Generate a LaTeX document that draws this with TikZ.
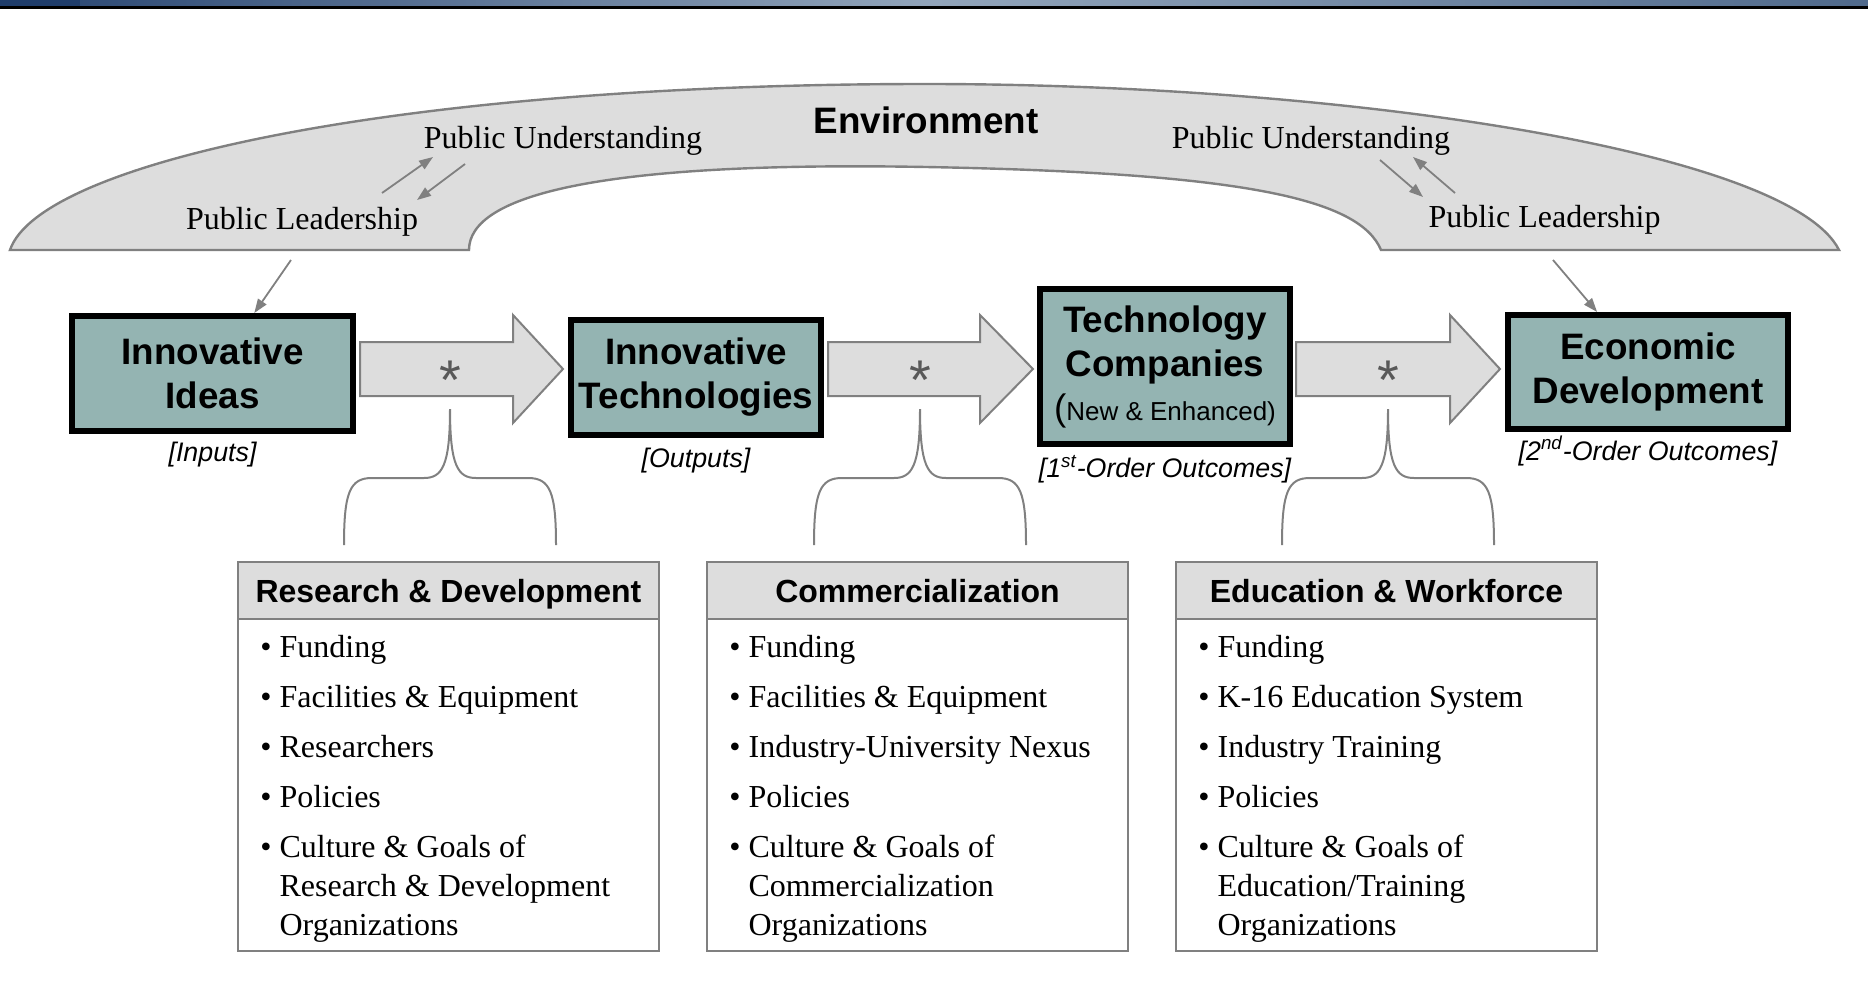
\documentclass[tikz,border=0pt]{standalone}
\usepackage{fontspec}
\setmainfont{Liberation Serif}
\setsansfont{Liberation Sans}
\usetikzlibrary{arrows.meta}
\usetikzlibrary{calc}
\usetikzlibrary{positioning}

\definecolor{stagefill}{RGB}{148,180,178}
\definecolor{envfill}{RGB}{221,221,221}
\definecolor{rim}{RGB}{128,128,128}
\definecolor{bardark}{RGB}{31,61,107}
\definecolor{barlight}{RGB}{146,165,187}
\definecolor{barend}{RGB}{80,106,140}

\newcommand{\bul}{\textbullet\ }
\newcommand{\cont}{\hphantom{\textbullet\ }}

\begin{document}
\begin{tikzpicture}[x=0.5pt,y=-0.5pt]
\tikzstyle{stage}=[draw, line width=3pt, fill=stagefill, align=center, inner sep=0pt, font=\sffamily\bfseries\fontsize{18.4}{22}\selectfont]
\tikzstyle{tag}=[inner sep=0pt, font=\sffamily\itshape\fontsize{13.4}{16}\selectfont]
\tikzstyle{pubtext}=[inner sep=0pt, font=\fontsize{16}{19}\selectfont]
\tikzstyle{leader}=[draw=rim, line width=0.9pt, -{Triangle[length=7pt,width=5pt]}]
\tikzstyle{flowarrow}=[draw=rim, line width=1pt, fill=envfill]
\tikzstyle{starmark}=[anchor=base, inner sep=0pt, text=black!65, font=\sffamily\fontsize{28}{28}\selectfont]
\tikzstyle{bracepath}=[draw=rim, line width=1pt]
\tikzstyle{factorhead}=[draw=rim, line width=1pt, fill=envfill, outer sep=0pt, minimum width=210.5pt, minimum height=28.5pt, inner sep=0pt, text height=11.7pt, text depth=0pt, font=\sffamily\bfseries\fontsize{16}{19}\selectfont]
\tikzstyle{factorbody}=[draw=rim, line width=1pt, fill=white, outer sep=0pt, minimum width=210.5pt, minimum height=166pt, inner sep=0pt]
\tikzstyle{factorlist}=[anchor=north west, inner sep=0pt, align=left, font=\fontsize{16}{19.5}\selectfont]
\useasboundingbox (0,0) rectangle (1868,1001);

% title bar
\fill[bardark] (0,0) rectangle (80,6);
\shade[left color=bardark!85!barlight, right color=barlight] (80,0) rectangle (934,6);
\shade[left color=barlight, right color=barend] (934,0) rectangle (1868,6);
\fill[black] (0,6) rectangle (1868,8.5);

% environment band
\draw[fill=envfill, draw=rim, line width=1.2pt] (10,250) .. controls (40,162) and (400,84) .. (926,84) .. controls (1350,84) and (1790,152) .. (1839,250) -- (1381,250) .. controls (1360,200) and (1250,173) .. (926,167) .. controls (600,161) and (469,195) .. (469,250) -- cycle;
\node[inner sep=0pt, font=\sffamily\bfseries\fontsize{18.4}{22}\selectfont] (env) at (926,120) {Environment};

\node[pubtext] (pu1) at (563,141) {Public Understanding};
\node[pubtext] (pl1) at (302,222) {Public Leadership};
\node[pubtext] (pu2) at (1311,141) {Public Understanding};
\node[pubtext] (pl2) at (1544.5,220) {Public Leadership};

\coordinate (up1a) at (382,193); \coordinate (up1b) at (433,157);
\coordinate (dn1a) at (465,164); \coordinate (dn1b) at (417,200);
\coordinate (dn2a) at (1380,160); \coordinate (dn2b) at (1423,197);
\coordinate (up2a) at (1455,193); \coordinate (up2b) at (1413,157);
\coordinate (envL) at (291,260);
\coordinate (envR) at (1553,260);
\foreach \i/\j in {up1a/up1b, dn1a/dn1b, dn2a/dn2b, up2a/up2b}
  \draw[leader] (\i) -- (\j);

% stages
\node[stage, minimum width=140.5pt, minimum height=57.5pt] (ideas) at (212.5,373.5) {Innovative\\Ideas};
\node[stage, minimum width=125pt, minimum height=57.5pt] (tech) at (696,377.5) {Innovative\\Technologies};
\node[stage, minimum width=125pt, minimum height=77.5pt] (firms) at (1165,366.5) {Technology\\Companies\\{\mdseries(}{\mdseries\fontsize{13}{16}\selectfont New \& Enhanced)}};
\node[stage, minimum width=140pt, minimum height=57pt] (econ) at (1648,372) {Economic\\Development};

\node[tag, below=4pt of ideas] (inputs) {[Inputs]};
\node[tag, below=5pt of tech] (outputs) {[Outputs]};
\node[tag, below=4pt of firms] (first) {[1\textsuperscript{st}-Order Outcomes]};
\node[tag, below=2pt of econ] (second) {[2\textsuperscript{nd}-Order Outcomes]};

\draw[leader] (envL) -- (ideas);
\draw[leader] (envR) -- (econ);

% block arrows, each with its star and brace
\foreach \a/\b/\c/\s [count=\n] in {360/513/563/450, 828/980/1033/920, 1296/1450/1500/1388}{
  \draw[flowarrow] (\a,342) -- (\b,342) -- (\b,315) -- (\c,369) -- (\b,423) -- (\b,396) -- (\a,396) -- cycle;
  \node[starmark] (star\n) at (\s,399) {*};
  \draw[bracepath] (\s-106,545) .. controls (\s-106,492) and (\s-100,478) .. (\s-78,478) -- (\s-26,478) .. controls (\s-8,478) and (\s,466) .. (\s,409) .. controls (\s,466) and (\s+8,478) .. (\s+26,478) -- (\s+78,478) .. controls (\s+100,478) and (\s+106,492) .. (\s+106,545);
}

% factor boxes
\node[factorhead] (rdhead) at (448.5,590.5) {Research \& Development};
\node[factorbody, below=0pt of rdhead] (rdbody) {};
\node[factorlist] (rdlist) at ($(rdbody.north west)+(22,16)$) {\bul Funding\\[5.5pt]
\bul Facilities \& Equipment\\[5.5pt]
\bul Researchers\\[5.5pt]
\bul Policies\\[5.5pt]
\bul Culture \& Goals of\\
\cont Research \& Development\\
\cont Organizations};

\node[factorhead] (cmhead) at (917.5,590.5) {Commercialization};
\node[factorbody, below=0pt of cmhead] (cmbody) {};
\node[factorlist] (cmlist) at ($(cmbody.north west)+(22,16)$) {\bul Funding\\[5.5pt]
\bul Facilities \& Equipment\\[5.5pt]
\bul Industry-University Nexus\\[5.5pt]
\bul Policies\\[5.5pt]
\bul Culture \& Goals of\\
\cont Commercialization\\
\cont Organizations};

\node[factorhead] (ewhead) at (1386.5,590.5) {Education \& Workforce};
\node[factorbody, below=0pt of ewhead] (ewbody) {};
\node[factorlist] (ewlist) at ($(ewbody.north west)+(22,16)$) {\bul Funding\\[5.5pt]
\bul K-16 Education System\\[5.5pt]
\bul Industry Training\\[5.5pt]
\bul Policies\\[5.5pt]
\bul Culture \& Goals of\\
\cont Education/Training\\
\cont Organizations};
\end{tikzpicture}
\end{document}
